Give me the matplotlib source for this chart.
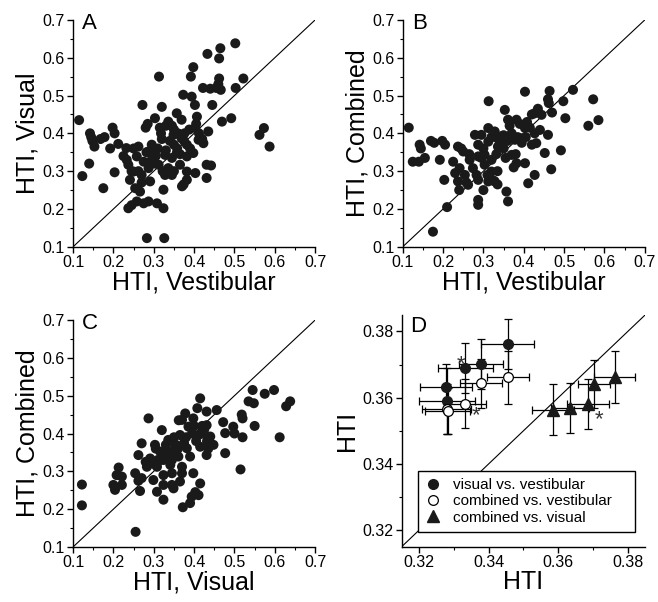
import numpy as np
import matplotlib
matplotlib.use('Agg')
import matplotlib.pyplot as plt
from matplotlib.ticker import AutoMinorLocator, FormatStrFormatter

plt.rcParams['font.family'] = ['Liberation Sans', 'DejaVu Sans']

# panel A: HTI vestibular (x) vs visual (y)
a_vest = [0.115, 0.123, 0.140, 0.142, 0.145, 0.148, 0.153, 0.168, 0.178, 0.175,
          0.192, 0.198, 0.203, 0.203, 0.212, 0.225, 0.232, 0.233, 0.237, 0.250,
          0.245, 0.250, 0.241, 0.254, 0.237, 0.245, 0.258, 0.266, 0.258, 0.262,
          0.270, 0.270, 0.275, 0.272, 0.280, 0.285, 0.282, 0.287, 0.287, 0.291,
          0.283, 0.295, 0.300, 0.303, 0.300, 0.308, 0.305, 0.313, 0.315, 0.318,
          0.320, 0.320, 0.312, 0.322, 0.324, 0.324, 0.326, 0.328, 0.330, 0.328,
          0.336, 0.336, 0.330, 0.345, 0.345, 0.349, 0.350, 0.357, 0.357, 0.358,
          0.360, 0.369, 0.365, 0.369, 0.370, 0.374, 0.373, 0.375, 0.382, 0.382,
          0.382, 0.382, 0.388, 0.394, 0.392, 0.398, 0.398, 0.402, 0.403, 0.403,
          0.407, 0.405, 0.411, 0.412, 0.423, 0.420, 0.422, 0.431, 0.431, 0.433,
          0.435, 0.442, 0.440, 0.445, 0.455, 0.460, 0.462, 0.462, 0.465, 0.466,
          0.469, 0.492, 0.502, 0.503, 0.522, 0.562, 0.573, 0.587, 0.287, 0.295,
          0.340, 0.350, 0.365, 0.376, 0.345, 0.350, 0.262, 0.275, 0.310, 0.390]
a_vis = [0.435, 0.287, 0.320, 0.400, 0.390, 0.380, 0.365, 0.385, 0.390, 0.255,
         0.360, 0.415, 0.400, 0.297, 0.372, 0.340, 0.361, 0.330, 0.317, 0.360,
         0.300, 0.299, 0.277, 0.255, 0.202, 0.210, 0.220, 0.246, 0.339, 0.365,
         0.290, 0.270, 0.215, 0.475, 0.415, 0.425, 0.350, 0.308, 0.220, 0.273,
         0.123, 0.370, 0.360, 0.440, 0.320, 0.215, 0.340, 0.550, 0.415, 0.400,
         0.385, 0.470, 0.317, 0.300, 0.251, 0.202, 0.123, 0.343, 0.355, 0.290,
         0.308, 0.431, 0.420, 0.290, 0.335, 0.396, 0.410, 0.453, 0.348, 0.360,
         0.400, 0.387, 0.317, 0.436, 0.260, 0.265, 0.502, 0.380, 0.277, 0.299,
         0.339, 0.370, 0.410, 0.497, 0.550, 0.348, 0.575, 0.475, 0.414, 0.295,
         0.444, 0.425, 0.383, 0.400, 0.374, 0.385, 0.520, 0.282, 0.317, 0.610,
         0.405, 0.315, 0.518, 0.475, 0.520, 0.530, 0.545, 0.598, 0.625, 0.515,
         0.431, 0.440, 0.638, 0.520, 0.545, 0.396, 0.414, 0.365, 0.352, 0.330,
         0.380, 0.370, 0.345, 0.400, 0.420, 0.300, 0.300, 0.325, 0.360, 0.360]

# panel B: HTI vestibular (x) vs combined (y)
b_vest = [0.115, 0.125, 0.140, 0.142, 0.145, 0.155, 0.170, 0.178, 0.175, 0.192,
          0.198, 0.205, 0.203, 0.210, 0.225, 0.230, 0.237, 0.237, 0.240, 0.245,
          0.250, 0.241, 0.254, 0.258, 0.262, 0.266, 0.265, 0.274, 0.279, 0.283,
          0.287, 0.287, 0.287, 0.287, 0.287, 0.295, 0.295, 0.300, 0.303, 0.303,
          0.310, 0.312, 0.312, 0.313, 0.312, 0.320, 0.320, 0.320, 0.325, 0.328,
          0.328, 0.332, 0.335, 0.336, 0.340, 0.345, 0.350, 0.353, 0.355, 0.357,
          0.361, 0.361, 0.365, 0.370, 0.370, 0.375, 0.378, 0.382, 0.382, 0.385,
          0.390, 0.394, 0.403, 0.403, 0.403, 0.405, 0.408, 0.411, 0.415, 0.420,
          0.420, 0.427, 0.427, 0.427, 0.431, 0.435, 0.440, 0.444, 0.452, 0.460,
          0.464, 0.460, 0.462, 0.468, 0.470, 0.492, 0.498, 0.503, 0.522, 0.560,
          0.572, 0.585, 0.345, 0.360, 0.335, 0.300, 0.380, 0.395, 0.350, 0.330]
b_comb = [0.415, 0.325, 0.325, 0.370, 0.360, 0.335, 0.380, 0.375, 0.140, 0.330,
          0.380, 0.370, 0.277, 0.205, 0.325, 0.295, 0.365, 0.273, 0.250, 0.360,
          0.352, 0.308, 0.290, 0.270, 0.264, 0.330, 0.345, 0.308, 0.396, 0.290,
          0.370, 0.339, 0.277, 0.224, 0.211, 0.396, 0.335, 0.250, 0.343, 0.317,
          0.290, 0.378, 0.414, 0.485, 0.273, 0.330, 0.299, 0.390, 0.275, 0.405,
          0.273, 0.345, 0.265, 0.365, 0.380, 0.392, 0.360, 0.462, 0.335, 0.246,
          0.220, 0.436, 0.420, 0.343, 0.400, 0.310, 0.383, 0.436, 0.321, 0.390,
          0.425, 0.387, 0.510, 0.414, 0.321, 0.390, 0.430, 0.268, 0.415, 0.450,
          0.370, 0.453, 0.400, 0.290, 0.374, 0.465, 0.409, 0.449, 0.348, 0.396,
          0.512, 0.490, 0.480, 0.305, 0.455, 0.355, 0.485, 0.440, 0.515, 0.420,
          0.490, 0.435, 0.370, 0.380, 0.300, 0.360, 0.345, 0.375, 0.395, 0.390]

# panel C: HTI visual (x) vs combined (y)
c_vis = [0.122, 0.122, 0.200, 0.204, 0.208, 0.213, 0.221, 0.221, 0.255, 0.254,
         0.262, 0.262, 0.266, 0.270, 0.270, 0.280, 0.287, 0.283, 0.291, 0.299,
         0.303, 0.300, 0.305, 0.308, 0.308, 0.316, 0.320, 0.324, 0.324, 0.324,
         0.324, 0.330, 0.336, 0.335, 0.341, 0.345, 0.345, 0.349, 0.349, 0.345,
         0.350, 0.361, 0.365, 0.365, 0.362, 0.370, 0.370, 0.370, 0.372, 0.378,
         0.382, 0.386, 0.390, 0.390, 0.398, 0.398, 0.394, 0.403, 0.408, 0.405,
         0.411, 0.411, 0.415, 0.415, 0.415, 0.420, 0.425, 0.431, 0.431, 0.431,
         0.432, 0.435, 0.440, 0.448, 0.456, 0.472, 0.477, 0.477, 0.497, 0.500,
         0.515, 0.518, 0.520, 0.520, 0.535, 0.545, 0.548, 0.550, 0.575, 0.598,
         0.612, 0.628, 0.638, 0.310, 0.330, 0.355, 0.360, 0.340, 0.395, 0.380,
         0.420, 0.290, 0.345, 0.375, 0.400]
c_comb = [0.265, 0.210, 0.264, 0.251, 0.290, 0.310, 0.286, 0.264, 0.140, 0.295,
          0.275, 0.343, 0.248, 0.374, 0.282, 0.325, 0.440, 0.312, 0.334, 0.277,
          0.370, 0.320, 0.360, 0.312, 0.246, 0.352, 0.409, 0.290, 0.264, 0.225,
          0.330, 0.370, 0.383, 0.340, 0.317, 0.295, 0.264, 0.255, 0.356, 0.380,
          0.390, 0.339, 0.396, 0.273, 0.435, 0.436, 0.312, 0.295, 0.205, 0.453,
          0.361, 0.418, 0.339, 0.216, 0.440, 0.295, 0.233, 0.245, 0.467, 0.380,
          0.396, 0.237, 0.493, 0.365, 0.268, 0.420, 0.410, 0.458, 0.422, 0.343,
          0.380, 0.360, 0.392, 0.370, 0.462, 0.430, 0.348, 0.401, 0.418, 0.400,
          0.305, 0.450, 0.440, 0.390, 0.485, 0.515, 0.480, 0.420, 0.505, 0.515,
          0.390, 0.472, 0.485, 0.330, 0.350, 0.370, 0.360, 0.340, 0.400, 0.390,
          0.400, 0.320, 0.330, 0.375, 0.420]

# panel D: population means with error bars
vv_x = [0.3277, 0.3281, 0.3333, 0.3378, 0.3455]
vv_y = [0.3633, 0.3590, 0.3689, 0.3701, 0.3762]
vv_xerr = [0.0075, 0.0080, 0.0079, 0.0062, 0.0076]
vv_yerr = [0.0070, 0.0100, 0.0075, 0.0076, 0.0075]

cv_x = [0.3279, 0.3282, 0.3333, 0.3378, 0.3455]
cv_y = [0.3566, 0.3559, 0.3582, 0.3643, 0.3661]
cv_xerr = [0.0070, 0.0065, 0.0060, 0.0060, 0.0060]
cv_yerr = [0.0075, 0.0070, 0.0073, 0.0075, 0.0079]

cvis_x = [0.3586, 0.3634, 0.3685, 0.3703, 0.3762]
cvis_y = [0.3564, 0.3569, 0.3581, 0.3642, 0.3662]
cvis_xerr = [0.0060, 0.0055, 0.0060, 0.0045, 0.0060]
cvis_yerr = [0.0078, 0.0075, 0.0075, 0.0072, 0.0078]

star_x = [0.3321, 0.3364, 0.3717]
star_y = [0.3716, 0.3562, 0.3549]


def style(ax, lo, hi, ticks, fmt):
    ax.set_xlim(lo, hi)
    ax.set_ylim(lo, hi)
    ax.set_xticks(ticks)
    ax.set_yticks(ticks)
    ax.xaxis.set_major_formatter(FormatStrFormatter(fmt))
    ax.yaxis.set_major_formatter(FormatStrFormatter(fmt))
    ax.xaxis.set_minor_locator(AutoMinorLocator(2))
    ax.yaxis.set_minor_locator(AutoMinorLocator(2))
    ax.spines['top'].set_visible(False)
    ax.spines['right'].set_visible(False)
    for s in ('left', 'bottom'):
        ax.spines[s].set_linewidth(1.0)
    ax.tick_params(which='major', direction='out', length=4, width=1.0,
                   labelsize=11.5, pad=2)
    ax.tick_params(which='minor', direction='out', length=2.5, width=0.8)
    ax.plot([lo, hi], [lo, hi], color='black', lw=0.8, zorder=1)


fig = plt.figure(figsize=(6.58, 6.02), dpi=100)
w = 0.368
h = 0.377
axA = fig.add_axes([0.111, 0.590, w, h])
axB = fig.add_axes([0.612, 0.590, w, h])
axC = fig.add_axes([0.111, 0.0914, w, h])
axD = fig.add_axes([0.6105, 0.0919, 0.370, 0.385])

big_ticks = np.arange(0.1, 0.71, 0.1)
panels = [
    (axA, a_vest, a_vis, 'HTI, Vestibular', 'HTI, Visual', 'A'),
    (axB, b_vest, b_comb, 'HTI, Vestibular', 'HTI, Combined', 'B'),
    (axC, c_vis, c_comb, 'HTI, Visual', 'HTI, Combined', 'C'),
]
for ax, xs, ys, xl, yl, letter in panels:
    style(ax, 0.1, 0.7, big_ticks, '%.1f')
    ax.scatter(xs, ys, s=52, color='#1a1a1a', edgecolors='none', zorder=3,
               clip_on=False)
    ax.set_xlabel(xl, fontsize=18, labelpad=0)
    ax.set_ylabel(yl, fontsize=18, labelpad=2)
    ax.text(0.037, 1.03, letter, transform=ax.transAxes, fontsize=16,
            va='top', ha='left')

# panel D
style(axD, 0.315, 0.385, [0.32, 0.34, 0.36, 0.38], '%.2f')
eb = dict(ecolor='black', elinewidth=0.9, capsize=3, capthick=0.9,
          linestyle='none', zorder=3)
axD.errorbar(vv_x, vv_y, xerr=vv_xerr, yerr=vv_yerr, marker='o', ms=7,
             mfc='#1a1a1a', mec='#1a1a1a', label='visual vs. vestibular', **eb)
axD.errorbar(cv_x, cv_y, xerr=cv_xerr, yerr=cv_yerr, marker='o', ms=7,
             mfc='white', mec='black', mew=0.9,
             label='combined vs. vestibular', **eb)
axD.errorbar(cvis_x, cvis_y, xerr=cvis_xerr, yerr=cvis_yerr, marker='^',
             ms=8, mfc='#1a1a1a', mec='#1a1a1a',
             label='combined vs. visual', **eb)
for sx, sy in zip(star_x, star_y):
    # '*' sits high in its text box, so nudge it down onto the point
    axD.annotate('*', (sx, sy), xytext=(0, -4), textcoords='offset points',
                 fontsize=16, color='#333333', ha='center', va='center',
                 zorder=4)
axD.set_xlabel('HTI', fontsize=18, labelpad=0)
axD.set_ylabel('HTI', fontsize=18, labelpad=2)
axD.text(0.034, 0.995, 'D', transform=axD.transAxes, fontsize=16,
         va='top', ha='left')

handles, labels = axD.get_legend_handles_labels()
handles = [h[0] for h in handles]
leg = axD.legend(handles, labels, loc='lower left',
                 bbox_to_anchor=(0.068, 0.065, 0.891, 0.259), mode='expand',
                 fontsize=11, frameon=True, fancybox=False, framealpha=1,
                 edgecolor='black', handlelength=1.0, handletextpad=0.8,
                 borderaxespad=0, labelspacing=0.15, borderpad=0.45)
leg.get_frame().set_linewidth(1.0)
leg.set_zorder(5)

fig.savefig('out.png', dpi=100)
